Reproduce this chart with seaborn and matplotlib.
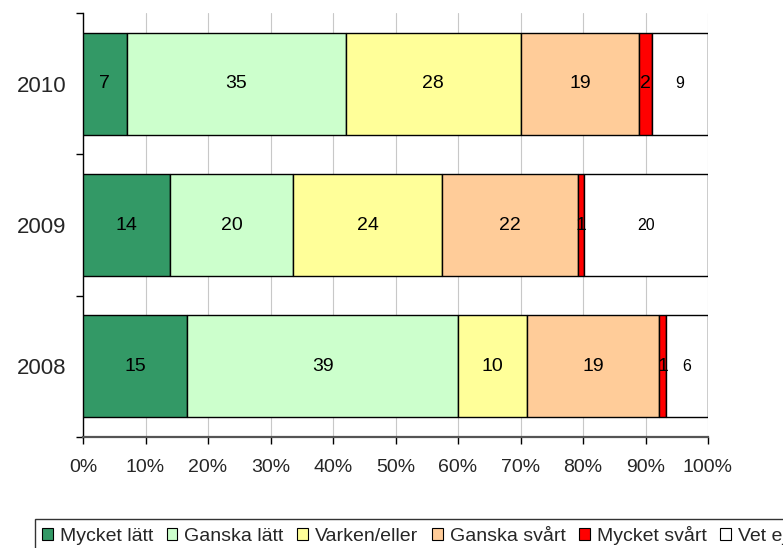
import numpy as np
import pandas as pd
import matplotlib
matplotlib.use("Agg")
import matplotlib.pyplot as plt
import seaborn as sns
from matplotlib.patches import Patch

years = ["2010", "2009", "2008"]
categories = ["Mycket lätt", "Ganska lätt", "Varken/eller", "Ganska svårt", "Mycket svårt", "Vet ej"]
colors = ["#339966", "#CCFFCC", "#FFFF99", "#FFCC99", "#FF0000", "#FFFFFF"]

mycket_latt = [7, 14, 15]
ganska_latt = [35, 20, 39]
varken_eller = [28, 24, 10]
ganska_svart = [19, 22, 19]
mycket_svart = [2, 1, 1]
vet_ej = [9, 20, 6]

sns.set_theme(style="white")
plt.rcParams["font.family"] = ["Liberation Sans", "DejaVu Sans"]

df = pd.DataFrame(
    np.array([mycket_latt, ganska_latt, varken_eller, ganska_svart, mycket_svart, vet_ej]).T,
    index=years, columns=categories,
)
# 100% stacked
pct = df.div(df.sum(axis=1), axis=0) * 100

fig = plt.figure(figsize=(7.83, 5.48), dpi=100)
ax = fig.add_axes([83 / 783, 1 - 437 / 548, 625 / 783, 424 / 548])

ypos = np.arange(len(years))
left = np.zeros(len(years))
for cat, col in zip(categories, colors):
    widths = pct[cat].values
    ax.barh(ypos, widths, left=left, height=0.72, color=col,
            edgecolor="black", linewidth=1, zorder=3)
    fs = 11.5 if cat == "Vet ej" else 14
    for y, l, w, v in zip(ypos, left, widths, df[cat].values):
        ax.text(l + w / 2, y, str(v), ha="center", va="center",
                fontsize=fs, color="black", zorder=4)
    left += widths

ax.set_xlim(0, 100)
ax.set_ylim(len(years) - 0.5, -0.5)
ax.set_xticks(np.arange(0, 101, 10))
ax.set_xticklabels([f"{v}%" for v in range(0, 101, 10)], fontsize=14)
ax.xaxis.grid(True, color="#c8c8c8", linewidth=0.8, zorder=0)
ax.yaxis.grid(False)

ax.set_yticks(ypos)
ax.set_yticklabels(years, fontsize=16)
ax.set_yticks(np.arange(-0.5, len(years), 1), minor=True)
ax.tick_params(axis="y", which="major", length=0, pad=12)
ax.tick_params(axis="y", which="minor", length=5, width=1, color="black", left=True)
ax.tick_params(axis="x", which="major", length=5, width=1, color="black", bottom=True, pad=11)

for s in ["top", "right"]:
    ax.spines[s].set_visible(False)
ax.spines["left"].set_color("black")
ax.spines["left"].set_linewidth(1)
ax.spines["bottom"].set_color("#555555")
ax.spines["bottom"].set_linewidth(1.6)

handles = [Patch(facecolor=c, edgecolor="black", linewidth=0.8) for c in colors]
leg = fig.legend(handles, categories, loc="upper left",
                 bbox_to_anchor=(35 / 783, 1 - 519 / 548), ncol=6,
                 fontsize=14, frameon=True, fancybox=False, edgecolor="black",
                 handlelength=0.55, handleheight=0.55, handletextpad=0.36,
                 columnspacing=0.7, borderpad=0.36, borderaxespad=0)
leg.get_frame().set_linewidth(1)

fig.savefig("out.png", dpi=100)
